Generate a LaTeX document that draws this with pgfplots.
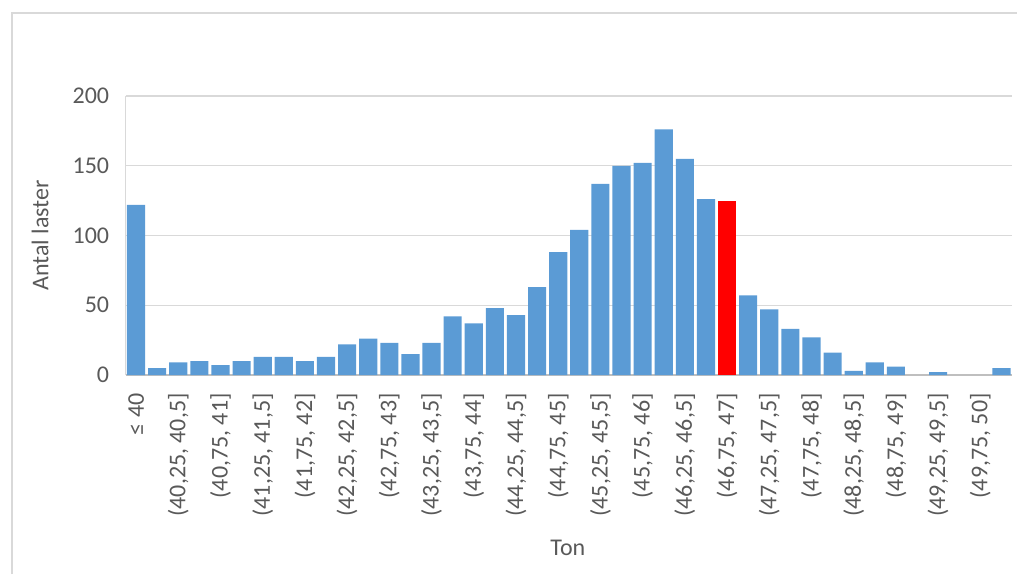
\documentclass[border=0pt]{standalone}
\usepackage{fontspec}
\setmainfont{Carlito}
\usepackage{pgfplots}
\pgfplotsset{compat=1.18}
\definecolor{barblue}{HTML}{5B9BD5}
\definecolor{barred}{HTML}{FF0000}
\definecolor{txtgray}{HTML}{595959}
\definecolor{gridgray}{HTML}{D9D9D9}
\definecolor{axisgray}{HTML}{BFBFBF}
\newcommand{\chartfont}{\fontsize{12}{14}\selectfont}
\begin{document}
\begin{tikzpicture}
\useasboundingbox (0,0) rectangle (508.5pt,287pt);
% chart area frame
\draw[gridgray, line width=0.8pt] (6pt,0) -- (6pt,280.5pt) -- (508.5pt,280.5pt);
\begin{axis}[
  at={(62.75pt,99.5pt)}, anchor=south west,
  width=443.25pt, height=139.5pt, scale only axis,
  xmin=-0.5, xmax=41.5, ymin=0, ymax=200,
  ybar, bar width=0.86, bar shift=0pt,
  ytick={0,50,100,150,200},
  xtick={0,2,...,40},
  xticklabels={{≤ 40},{(40,25, 40,5]},{(40,75, 41]},{(41,25, 41,5]},{(41,75, 42]},
    {(42,25, 42,5]},{(42,75, 43]},{(43,25, 43,5]},{(43,75, 44]},{(44,25, 44,5]},
    {(44,75, 45]},{(45,25, 45,5]},{(45,75, 46]},{(46,25, 46,5]},{(46,75, 47]},
    {(47,25, 47,5]},{(47,75, 48]},{(48,25, 48,5]},{(48,75, 49]},{(49,25, 49,5]},
    {(49,75, 50]}},
  major tick length=0pt,
  ymajorgrids, grid style={gridgray, line width=0.7pt},
  axis x line*=bottom, axis y line*=left,
  x axis line style={axisgray, line width=0.7pt, -},
  y axis line style={gridgray, line width=0.7pt, -},
  /pgf/number format/assume math mode=true,
  tick label style={font=\chartfont, text=txtgray},
  yticklabel style={inner sep=0pt},
  yticklabel shift=8pt,
  xticklabel style={rotate=90, anchor=east, inner sep=0pt},
  xticklabel shift=9pt,
  label style={font=\chartfont, text=txtgray},
  ylabel={Antal laster},
  ylabel style={at={(axis description cs:-0.0964,0.5)}, anchor=center},
  xlabel={Ton},
  xlabel style={at={(axis description cs:0.499,-0.62)}, anchor=center},
  clip=false,
]
% number of loads per weight bin
\addplot[fill=barblue, draw=none] coordinates {
  (0,122) (1,5) (2,9) (3,10) (4,7) (5,10) (6,13) (7,13) (8,10) (9,13)
  (10,22) (11,26) (12,23) (13,15) (14,23) (15,42) (16,37) (17,48) (18,43)
  (19,63) (20,88) (21,104) (22,137) (23,150) (24,152) (25,176) (26,155)
  (27,126) (29,57) (30,47) (31,33) (32,27) (33,16) (34,3) (35,9) (36,6)
  (38,2) (41,5)
};
% highlighted bin (46,75, 47]
\addplot[fill=barred, draw=none] coordinates {(28,125)};
\end{axis}
\end{tikzpicture}
\end{document}
